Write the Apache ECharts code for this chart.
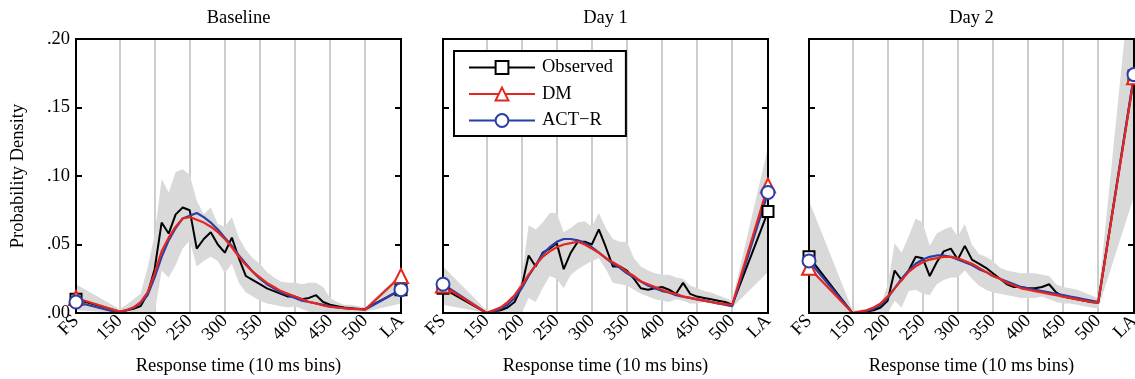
<!DOCTYPE html>
<html>
<head>
<meta charset="utf-8">
<script src="https://cdn.jsdelivr.net/npm/echarts@6/dist/echarts.min.js"></script>
<style>
  html, body { margin: 0; padding: 0; background: #ffffff; }
  #chart { width: 1135px; height: 379px; }
</style>
</head>
<body>
<div id="chart"></div>
<script>
// Positions of the fast-start (FS) and late (LA) bins on the response-time axis
const FS_X = 88;
const LA_X = 551;

// 10 ms response-time bins between FS and LA
const bins = [150, 160, 170, 180, 190, 200, 210, 220, 230, 240, 250, 260, 270, 280, 290,
              300, 310, 320, 330, 340, 350, 360, 370, 380, 390, 400, 410, 420, 430, 440,
              450, 460, 470, 480, 490, 500];

const xTickValues = [FS_X, 150, 200, 250, 300, 350, 400, 450, 500, LA_X];
const xTickLabels = ['FS', '150', '200', '250', '300', '350', '400', '450', '500', 'LA'];

const panelTitles = ['Baseline', 'Day 1', 'Day 2'];
const seriesNames = ['Observed', 'DM', 'ACT\u2212R'];

// Each array: FS, 150 … 500, LA
const obsBaseline = [0.010, 0.001, 0.002, 0.003, 0.005, 0.014, 0.032, 0.066, 0.058, 0.072, 0.077, 0.075,
  0.047, 0.054, 0.059, 0.050, 0.044, 0.055, 0.040, 0.027, 0.024, 0.021, 0.018, 0.016, 0.014, 0.012,
  0.012, 0.010, 0.011, 0.013, 0.008, 0.006, 0.005, 0.004, 0.0035, 0.003, 0.003, 0.017];
const dmBaseline = [0.011, 0.001, 0.002, 0.004, 0.008, 0.015, 0.029, 0.045, 0.055, 0.063, 0.069, 0.070,
  0.068, 0.066, 0.063, 0.059, 0.054, 0.048, 0.041, 0.035, 0.030, 0.026, 0.022, 0.019, 0.016, 0.014,
  0.012, 0.010, 0.008, 0.007, 0.0055, 0.0045, 0.004, 0.0035, 0.003, 0.0028, 0.0025, 0.027];
const actrBaseline = [0.008, 0.000, 0.002, 0.004, 0.007, 0.013, 0.026, 0.041, 0.053, 0.062, 0.069, 0.071,
  0.073, 0.070, 0.066, 0.061, 0.055, 0.049, 0.042, 0.036, 0.030, 0.025, 0.021, 0.018, 0.015, 0.013,
  0.011, 0.009, 0.008, 0.007, 0.006, 0.005, 0.004, 0.0035, 0.003, 0.003, 0.0025, 0.017];
const hiBaseline = [0.021, 0.003, 0.006, 0.010, 0.014, 0.033, 0.057, 0.098, 0.088, 0.103, 0.105, 0.101,
  0.082, 0.072, 0.077, 0.065, 0.063, 0.070, 0.055, 0.046, 0.040, 0.036, 0.030, 0.026, 0.023, 0.022,
  0.022, 0.021, 0.022, 0.022, 0.019, 0.011, 0.008, 0.006, 0.006, 0.005, 0.004, 0.029];
const loBaseline = [0.002, 0.000, 0.000, 0.000, 0.000, 0.000, 0.000, 0.031, 0.026, 0.035, 0.047, 0.053,
  0.034, 0.038, 0.041, 0.038, 0.029, 0.036, 0.022, 0.015, 0.012, 0.009, 0.007, 0.006, 0.005, 0.004,
  0.005, 0.003, 0.001, 0.000, 0.000, 0.000, 0.001, 0.001, 0.001, 0.001, 0.001, 0.007];

const obsDay1 = [0.018, 0.000, 0.001, 0.002, 0.004, 0.008, 0.019, 0.042, 0.034, 0.044, 0.047, 0.051,
  0.032, 0.044, 0.052, 0.052, 0.050, 0.061, 0.048, 0.034, 0.034, 0.031, 0.025, 0.018, 0.017, 0.018,
  0.019, 0.017, 0.014, 0.022, 0.014, 0.012, 0.011, 0.010, 0.009, 0.008, 0.006, 0.074];
const dmDay1 = [0.020, 0.000, 0.002, 0.004, 0.008, 0.013, 0.020, 0.028, 0.035, 0.041, 0.045, 0.048,
  0.050, 0.051, 0.052, 0.050, 0.047, 0.044, 0.040, 0.037, 0.034, 0.030, 0.027, 0.023, 0.021, 0.019,
  0.017, 0.015, 0.014, 0.012, 0.011, 0.010, 0.009, 0.008, 0.007, 0.0065, 0.006, 0.093];
const actrDay1 = [0.021, 0.000, 0.001, 0.003, 0.006, 0.011, 0.018, 0.027, 0.035, 0.043, 0.048, 0.052,
  0.054, 0.054, 0.053, 0.051, 0.048, 0.044, 0.040, 0.036, 0.033, 0.029, 0.026, 0.023, 0.020, 0.018,
  0.016, 0.015, 0.013, 0.012, 0.011, 0.010, 0.009, 0.008, 0.007, 0.006, 0.005, 0.088];
const hiDay1 = [0.034, 0.002, 0.003, 0.005, 0.007, 0.012, 0.025, 0.064, 0.061, 0.066, 0.073, 0.073,
  0.059, 0.062, 0.066, 0.067, 0.063, 0.073, 0.062, 0.054, 0.052, 0.052, 0.040, 0.034, 0.031, 0.029,
  0.028, 0.028, 0.026, 0.025, 0.020, 0.018, 0.016, 0.015, 0.013, 0.011, 0.009, 0.121];
const loDay1 = [0.006, 0.000, 0.000, 0.000, 0.000, 0.000, 0.000, 0.011, 0.008, 0.018, 0.027, 0.025,
  0.018, 0.028, 0.032, 0.035, 0.038, 0.040, 0.032, 0.022, 0.021, 0.020, 0.017, 0.014, 0.012, 0.010,
  0.009, 0.008, 0.010, 0.009, 0.007, 0.007, 0.008, 0.007, 0.006, 0.005, 0.004, 0.030];

const obsDay2 = [0.041, 0.000, 0.000, 0.001, 0.002, 0.004, 0.009, 0.031, 0.024, 0.031, 0.041, 0.040,
  0.027, 0.037, 0.045, 0.047, 0.039, 0.049, 0.039, 0.036, 0.033, 0.029, 0.025, 0.021, 0.019, 0.019,
  0.018, 0.018, 0.019, 0.021, 0.015, 0.012, 0.011, 0.010, 0.009, 0.008, 0.0075, 0.173];
const dmDay2 = [0.033, 0.000, 0.001, 0.002, 0.004, 0.007, 0.012, 0.018, 0.024, 0.030, 0.034, 0.037,
  0.039, 0.040, 0.041, 0.041, 0.040, 0.038, 0.036, 0.033, 0.030, 0.027, 0.025, 0.022, 0.020, 0.018,
  0.017, 0.016, 0.015, 0.014, 0.013, 0.012, 0.011, 0.010, 0.009, 0.008, 0.0075, 0.172];
const actrDay2 = [0.038, 0.000, 0.0005, 0.0015, 0.003, 0.006, 0.011, 0.018, 0.025, 0.031, 0.036, 0.039,
  0.041, 0.042, 0.042, 0.041, 0.039, 0.037, 0.035, 0.032, 0.030, 0.027, 0.025, 0.023, 0.021, 0.019,
  0.018, 0.017, 0.016, 0.015, 0.014, 0.013, 0.012, 0.011, 0.010, 0.009, 0.008, 0.174];
const hiDay2 = [0.082, 0.002, 0.002, 0.003, 0.004, 0.006, 0.020, 0.051, 0.044, 0.056, 0.069, 0.066,
  0.049, 0.058, 0.061, 0.063, 0.056, 0.065, 0.050, 0.043, 0.041, 0.038, 0.033, 0.031, 0.030, 0.029,
  0.029, 0.029, 0.028, 0.027, 0.021, 0.019, 0.018, 0.017, 0.015, 0.013, 0.011, 0.270];
const loDay2 = [0.000, 0.000, 0.000, 0.000, 0.000, 0.000, 0.000, 0.009, 0.004, 0.016, 0.017, 0.014,
  0.013, 0.021, 0.024, 0.026, 0.026, 0.031, 0.025, 0.020, 0.017, 0.015, 0.014, 0.013, 0.012, 0.011,
  0.011, 0.011, 0.012, 0.010, 0.008, 0.007, 0.007, 0.006, 0.005, 0.004, 0.0035, 0.085];

const panels = [
  { obs: obsBaseline, dm: dmBaseline, actr: actrBaseline, hi: hiBaseline, lo: loBaseline },
  { obs: obsDay1, dm: dmDay1, actr: actrDay1, hi: hiDay1, lo: loDay1 },
  { obs: obsDay2, dm: dmDay2, actr: actrDay2, hi: hiDay2, lo: loDay2 }
];

const FONT = 'Liberation Serif';
const RED = '#e5261e';
const BLUE = '#2b3da6';
const BLACK = '#000000';
const BAND = '#d9d9d9';
const GRIDLINE = '#cdcdcd';

const gridLefts = [76, 443, 809];
const gridTop = 39, gridWidth = 325, gridHeight = 274;

const xs = [FS_X].concat(bins, [LA_X]);
const pairs = (vals) => xs.map((x, i) => [x, vals[i]]);
const ends = (vals) => [[xs[0], vals[0]], [xs[xs.length - 1], vals[vals.length - 1]]];

// Band polygon: upper bound left to right, then lower bound right to left
function bandRenderer(hi, lo) {
  return function (params, api) {
    if (params.dataIndex !== 0) return null;
    const pts = [];
    for (let k = 0; k < xs.length; k++) pts.push(api.coord([xs[k], hi[k]]));
    for (let k = xs.length - 1; k >= 0; k--) pts.push(api.coord([xs[k], lo[k]]));
    const cs = params.coordSys;
    return {
      type: 'polygon',
      shape: { points: pts },
      style: { fill: BAND, stroke: null },
      clipPath: { type: 'rect', shape: { x: cs.x, y: cs.y, width: cs.width, height: cs.height } }
    };
  };
}

const grids = [], xAxes = [], yAxes = [], series = [], titles = [];

panels.forEach((p, i) => {
  grids.push({
    left: gridLefts[i], top: gridTop, width: gridWidth, height: gridHeight,
    outerBoundsMode: 'none', containLabel: false,
    show: true, z: 10, backgroundColor: 'transparent',
    borderColor: BLACK, borderWidth: 2
  });
  titles.push({
    text: panelTitles[i],
    left: gridLefts[i] + gridWidth / 2, top: 9, padding: 0, textAlign: 'center',
    textStyle: { fontFamily: FONT, fontSize: 18.5, fontWeight: 'normal', color: BLACK }
  });
  xAxes.push({
    gridIndex: i, type: 'value', min: FS_X, max: LA_X,
    axisLine: { show: false },
    axisTick: { show: false, customValues: xTickValues },
    axisLabel: {
      customValues: xTickValues,
      formatter: (v) => xTickLabels[xTickValues.indexOf(v)],
      rotate: 45, margin: 5,
      fontFamily: FONT, fontSize: 18.5, color: BLACK
    },
    splitLine: { show: true, lineStyle: { color: GRIDLINE, width: 2 } },
    name: 'Response time (10 ms bins)', nameLocation: 'middle', nameGap: 44,
    nameTextStyle: { fontFamily: FONT, fontSize: 18.5, color: BLACK }
  });
  const yBase = {
    gridIndex: i, type: 'value', min: 0, max: 0.2, interval: 0.05,
    axisLine: { show: false },
    axisTick: { show: true, inside: true, length: 6, lineStyle: { color: BLACK, width: 2 } },
    splitLine: { show: false }
  };
  yAxes.push(Object.assign({}, yBase, {
    position: 'left',
    axisLabel: {
      show: i === 0, margin: 6,
      formatter: (v) => v.toFixed(2).slice(1),
      fontFamily: FONT, fontSize: 18.5, color: BLACK
    },
    name: i === 0 ? 'Probability Density' : '',
    nameLocation: 'middle', nameGap: 48,
    nameTextStyle: { fontFamily: FONT, fontSize: 18.5, color: BLACK }
  }));
  yAxes.push(Object.assign({}, yBase, { position: 'right', axisLabel: { show: false } }));

  const yl = 2 * i;
  // Shaded band around the observed density
  series.push({
    type: 'custom', xAxisIndex: i, yAxisIndex: yl, silent: true, z: 2,
    data: xs.map((x, k) => [x, p.lo[k], p.hi[k]]),
    encode: { x: 0, y: [1, 2] },
    renderItem: bandRenderer(p.hi, p.lo)
  });
  // Curves
  const curves = [
    { name: seriesNames[0], vals: p.obs, color: BLACK, width: 2, symbol: 'rect', size: 11, z: 3 },
    { name: seriesNames[2], vals: p.actr, color: BLUE, width: 2.2, symbol: 'circle', size: 13, z: 4 },
    { name: seriesNames[1], vals: p.dm, color: RED, width: 2.2, symbol: 'triangle', size: 14, z: 5 }
  ];
  curves.forEach((c) => {
    series.push({
      type: 'line', name: c.name, xAxisIndex: i, yAxisIndex: yl,
      data: pairs(c.vals), showSymbol: false, symbol: c.symbol, symbolSize: c.size,
      silent: true, z: c.z, clip: false,
      lineStyle: { color: c.color, width: c.width },
      itemStyle: { color: '#ffffff', borderColor: c.color, borderWidth: 2 }
    });
  });
  // FS / LA markers, drawn above the frame
  const markerOrder = [curves[0], curves[2], curves[1]];
  markerOrder.forEach((c, k) => {
    series.push({
      type: 'scatter', xAxisIndex: i, yAxisIndex: yl,
      data: ends(c.vals), symbol: c.symbol, symbolSize: c.size,
      silent: true, z: 12 + k, clip: false,
      itemStyle: { color: '#ffffff', borderColor: c.color, borderWidth: 2, opacity: 1 }
    });
  });
});

const chart = echarts.init(document.getElementById('chart'), null, { renderer: 'canvas' });
chart.setOption({
  animation: false,
  backgroundColor: '#ffffff',
  title: titles,
  grid: grids,
  xAxis: xAxes,
  yAxis: yAxes,
  legend: {
    data: seriesNames,
    left: 454, top: 51, orient: 'vertical',
    padding: [7, 13, 6, 14],
    itemWidth: 66, itemHeight: 16, itemGap: 7.5,
    backgroundColor: '#ffffff', borderColor: BLACK, borderWidth: 2, borderRadius: 0,
    selectedMode: false, z: 20,
    textStyle: { fontFamily: FONT, fontSize: 18.5, color: BLACK, padding: [0, 0, 0, 2] }
  },
  series: series
});
</script>
</body>
</html>
